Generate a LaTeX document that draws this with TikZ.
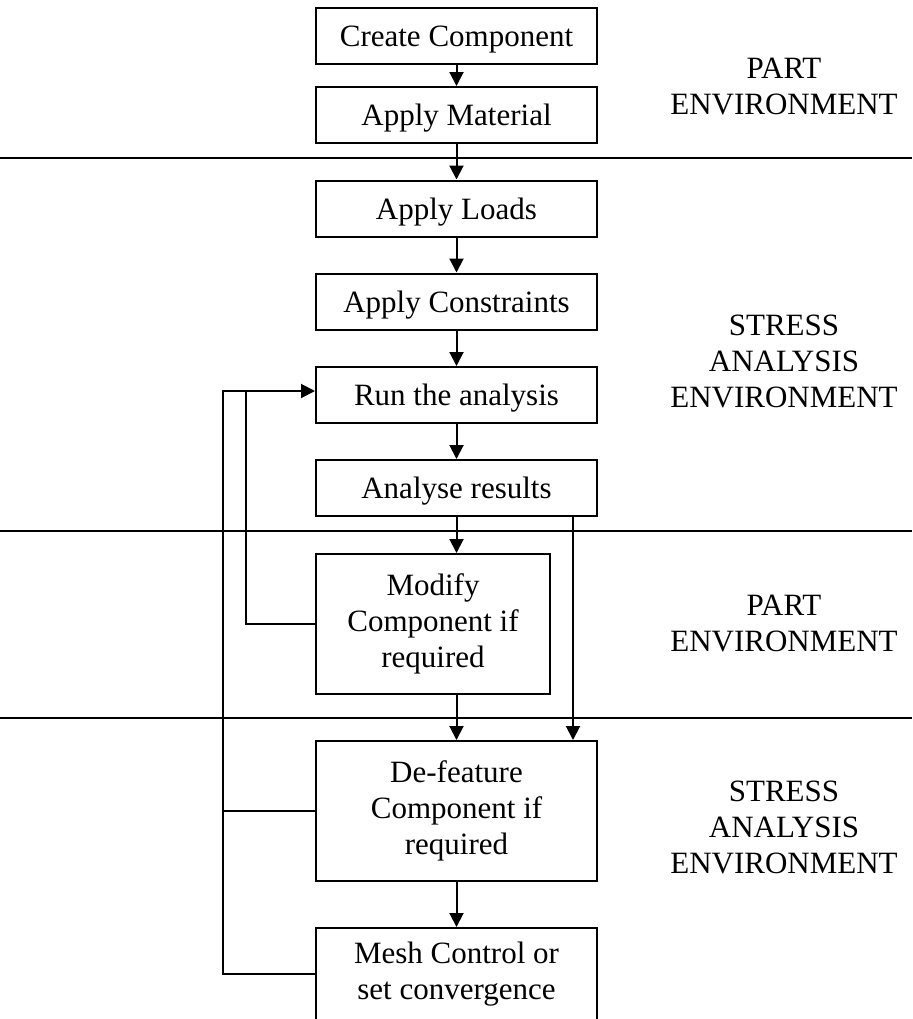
\documentclass[tikz,border=0pt]{standalone}
\usepackage{fontspec}
\setmainfont{Liberation Serif}
\usetikzlibrary{arrows.meta}

\tikzset{
    stage/.style={draw, line width=1pt, align=center, inner sep=0pt,
        minimum width=140.5pt, minimum height=28pt},
    oneline/.style={stage, text height=11pt, text depth=0.5pt},
    flow/.style={line width=1pt, -{Triangle[length=7pt,width=7pt]}},
    envlabel/.style={align=center, inner sep=0pt}
}

\begin{document}
\begin{tikzpicture}[x=0.5pt, y=-0.5pt, font=\fontsize{15.5}{18}\selectfont]
    \clip (0,0) rectangle (912,1019);

    % boxes
    \node[oneline] (create) at (456.5, 36) {Create Component};
    \node[oneline] (material) at (456.5, 115) {Apply Material};
    \node[oneline] (loads) at (456.5, 208.5) {Apply Loads};
    \node[oneline] (constraints) at (456.5, 301.5) {Apply Constraints};
    \node[oneline] (run) at (456.5, 395) {Run the analysis};
    \node[oneline] (analyse) at (456.5, 488) {Analyse results};
    \node[stage, minimum width=117pt, minimum height=70pt] (modify) at (433, 624)
        {Modify\\Component if\\required};
    \node[stage, minimum height=70pt] (defeature) at (456.5, 811)
        {De-feature\\Component if\\required};
    \node[stage, minimum height=46pt] (mesh) at (456.5, 974)
        {Mesh Control or\\set convergence};

    % environment labels
    \node[envlabel] (env1) at (784, 86) {PART\\ENVIRONMENT};
    \node[envlabel] (env2) at (784, 361) {STRESS\\ANALYSIS\\ENVIRONMENT};
    \node[envlabel] (env3) at (784, 623.5) {PART\\ENVIRONMENT};
    \node[envlabel] (env4) at (784, 827) {STRESS\\ANALYSIS\\ENVIRONMENT};

    % dividers
    \draw[line width=1pt] (0, 158) -- (912, 158);
    \draw[line width=1pt] (0, 531) -- (912, 531);
    \draw[line width=1pt] (0, 717.5) -- (912, 717.5);

    % main flow
    \draw[flow] (create) -- (material);
    \draw[flow] (material) -- (loads);
    \draw[flow] (loads) -- (constraints);
    \draw[flow] (constraints) -- (run);
    \draw[flow] (run) -- (analyse);
    \draw[flow] (analyse.south) -- (analyse.south |- modify.north);
    \draw[flow] (defeature.north |- modify.south) -- (defeature.north);
    \draw[flow] (defeature) -- (mesh);

    % bypass on the right
    \coordinate (skip) at (573, 0);
    \draw[flow] (analyse.south -| skip) -- (defeature.north -| skip);

    % loops back to the analysis
    \coordinate (outer) at (223, 391);
    \coordinate (inner) at (246, 391);
    \draw[flow] (mesh.west) -| (outer) -- (outer -| run.west);
    \draw[line width=1pt] (modify.west) -| (inner);
    \draw[line width=1pt] (defeature.west) -- (defeature.west -| outer);
\end{tikzpicture}
\end{document}
